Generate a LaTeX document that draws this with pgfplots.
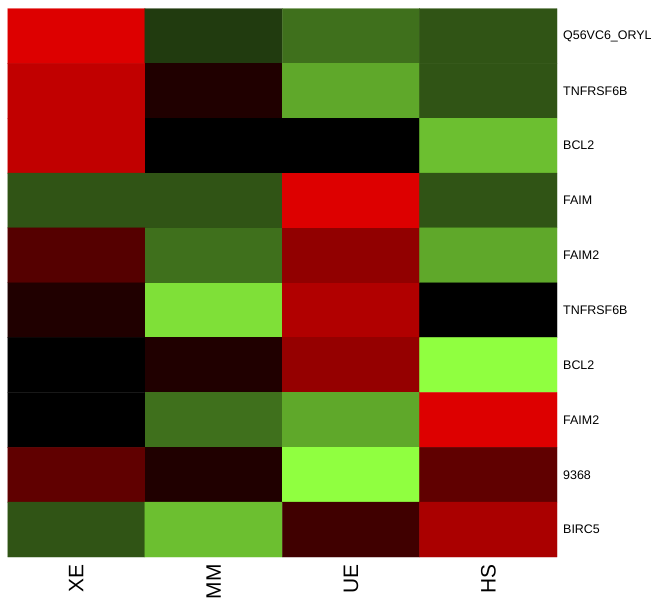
\documentclass[border=0pt]{standalone}
\usepackage{fontspec}
\setmainfont{Liberation Sans}
\usepackage{pgfplots}
\pgfplotsset{compat=1.18}
\begin{document}
\begin{tikzpicture}
\useasboundingbox (-7.5bp,-42bp) rectangle (647.5bp,557bp);
\begin{axis}[
    at={(0,0)}, anchor=south west,
    scale only axis,
    width=549.5bp, height=548.5bp,
    xmin=-0.5, xmax=3.5,
    ymin=-0.5, ymax=9.5,
    y dir=reverse,
    axis line style={draw=none},
    major tick length=0pt,
    xtick={0,1,2,3},
    xticklabels={XE,MM,UE,HS},
    x tick label style={rotate=90, anchor=east, inner sep=0pt,
        font=\fontsize{21}{21}\selectfont},
    xticklabel shift=7bp,
    ytick={0,...,9},
    yticklabels={Q56VC6\_ORYL,TNFRSF6B,BCL2,FAIM,FAIM2,TNFRSF6B,BCL2,FAIM2,9368,BIRC5},
    yticklabel pos=right,
    y tick label style={anchor=west, inner sep=0pt,
        font=\fontsize{12.5}{12.5}\selectfont},
    yticklabel shift=6bp,
    colormap={rg}{rgb255(0cm)=(144,255,64); rgb255(1cm)=(0,0,0); rgb255(2cm)=(230,0,0)},
    point meta min=-1, point meta max=1,
]
\addplot[matrix plot*, mesh/cols=4, point meta=explicit] table[meta=c] {
x y c
0 0 0.96
1 0 -0.23
2 0 -0.44
3 0 -0.33
0 1 0.84
1 1 0.14
2 1 -0.66
3 1 -0.33
0 2 0.84
1 2 0
2 2 0
3 2 -0.75
0 3 -0.33
1 3 -0.33
2 3 0.96
3 3 -0.33
0 4 0.37
1 4 -0.44
2 4 0.63
3 4 -0.66
0 5 0.14
1 5 -0.88
2 5 0.77
3 5 0
0 6 0
1 6 0.14
2 6 0.65
3 6 -1
0 7 0
1 7 -0.44
2 7 -0.66
3 7 0.96
0 8 0.42
1 8 0.14
2 8 -1
3 8 0.42
0 9 -0.33
1 9 -0.75
2 9 0.28
3 9 0.74
};
\end{axis}
\end{tikzpicture}
\end{document}
